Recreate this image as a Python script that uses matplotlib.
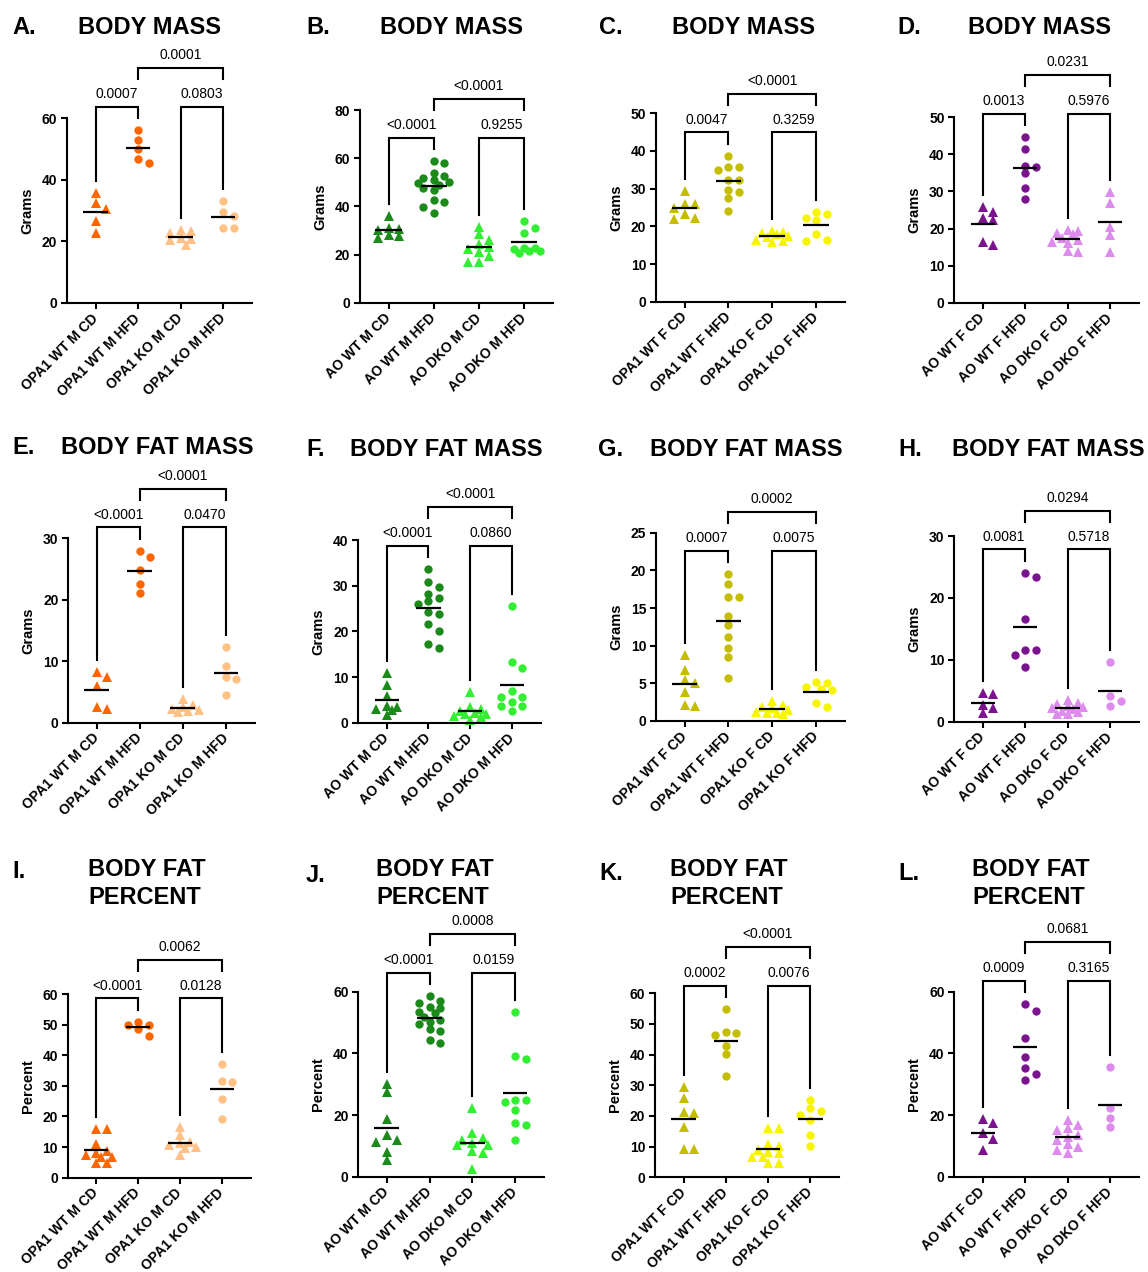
import numpy as np
import matplotlib
matplotlib.use('Agg')
import matplotlib.pyplot as plt

plt.rcParams['font.family'] = ['Liberation Sans', 'DejaVu Sans']

W, H, DPI = 1148, 1272, 100

# ---------------- data ----------------
opa1_m_labels = ['OPA1 WT M CD', 'OPA1 WT M HFD', 'OPA1 KO M CD', 'OPA1 KO M HFD']
ao_m_labels = ['AO WT M CD', 'AO WT M HFD', 'AO DKO M CD', 'AO DKO M HFD']
opa1_f_labels = ['OPA1 WT F CD', 'OPA1 WT F HFD', 'OPA1 KO F CD', 'OPA1 KO F HFD']
ao_f_labels = ['AO WT F CD', 'AO WT F HFD', 'AO DKO F CD', 'AO DKO F HFD']

A_vals = [[35.6, 32.5, 30.4, 26.6, 22.6],
          [56.1, 52.9, 50.0, 46.6, 45.5],
          [23.8, 23.5, 22.6, 21.0, 20.6, 20.3, 18.9],
          [33.2, 29.5, 28.2, 24.3, 24.3]]
A_p = ['0.0007', '0.0803', '0.0001']

B_vals = [[36.0, 31.0, 30.5, 30.0, 28.0, 27.5, 27.0],
          [58.8, 57.8, 53.7, 52.6, 51.6, 50.9, 50.2, 49.5, 48.8, 47.5, 46.8, 42.6, 41.9, 39.8, 37.1],
          [31.5, 28.5, 26.0, 24.5, 23.0, 22.5, 21.0, 19.5, 17.0, 17.0],
          [33.9, 31.1, 28.8, 22.6, 22.6, 22.1, 21.6, 21.6, 20.7]]
B_p = ['<0.0001', '0.9255', '<0.0001']

C_vals = [[29.4, 25.9, 25.9, 24.8, 23.4, 21.9, 22.1],
          [38.7, 35.8, 35.8, 34.9, 32.3, 32.3, 29.6, 29.0, 27.6, 24.1],
          [18.8, 18.5, 18.2, 18.0, 17.5, 17.2, 16.5, 16.0, 15.8],
          [23.7, 23.4, 22.1, 21.7, 18.0, 16.2, 16.5]]
C_p = ['0.0047', '0.3259', '<0.0001']

D_vals = [[24.5, 25.7, 22.3, 22.8, 15.6, 16.5],
          [44.6, 41.4, 37.0, 36.7, 34.9, 31.0, 27.9],
          [19.5, 19.3, 18.8, 18.5, 17.5, 17.0, 16.5, 16.0, 14.0, 13.8],
          [29.8, 27.0, 20.5, 18.3, 13.6]]
D_p = ['0.0013', '0.5976', '0.0231']

E_vals = [[8.3, 7.5, 6.0, 2.2, 2.6],
          [28.0, 26.9, 24.9, 22.6, 21.1],
          [3.8, 2.8, 2.5, 2.2, 2.0, 1.8, 1.9],
          [12.3, 9.2, 7.5, 7.1, 4.5]]
E_p = ['<0.0001', '0.0470', '<0.0001']

F_vals = [[10.8, 8.3, 5.9, 3.7, 3.5, 3.0, 2.7, 1.6],
          [33.6, 30.9, 29.8, 28.2, 27.2, 26.6, 25.9, 24.3, 23.9, 21.6, 20.1, 17.2, 16.3],
          [6.8, 3.5, 3.0, 2.5, 2.2, 2.0, 1.8, 1.5, 1.2, 0.5],
          [25.5, 13.2, 11.9, 7.0, 5.7, 5.7, 4.6, 3.7, 3.7, 2.6]]
F_p = ['<0.0001', '0.0860', '<0.0001']

G_vals = [[8.8, 6.8, 5.4, 5.1, 3.9, 2.0, 2.1],
          [19.5, 18.2, 16.4, 16.5, 13.9, 12.7, 11.2, 9.7, 8.5, 5.7],
          [2.7, 2.1, 1.9, 1.7, 1.4, 1.2, 1.1, 1.0, 0.9],
          [5.2, 5.1, 4.5, 4.3, 4.1, 2.4, 1.8]]
G_p = ['0.0007', '0.0075', '0.0002']

H_vals = [[4.4, 4.6, 2.7, 2.2, 1.4],
          [23.3, 24.1, 16.6, 11.6, 11.6, 10.8, 8.8],
          [3.5, 3.0, 2.8, 2.5, 2.3, 2.2, 2.0, 1.8, 1.6, 1.3, 1.2],
          [9.7, 4.2, 2.6, 3.4]]
H_p = ['0.0081', '0.5718', '0.0294']

I_vals = [[15.8, 15.8, 10.9, 8.8, 8.2, 7.4, 6.9, 6.7, 4.9, 4.7],
          [51.0, 49.9, 49.9, 48.5, 46.3],
          [16.7, 14.0, 11.8, 11.4, 10.7, 9.9, 9.6, 7.4],
          [37.2, 31.4, 31.6, 25.7, 19.2]]
I_p = ['<0.0001', '0.0128', '0.0062']

J_vals = [[30.1, 27.4, 18.6, 13.5, 11.9, 11.4, 8.1, 5.4],
          [58.6, 57.1, 56.4, 55.1, 54.6, 53.5, 53.2, 51.9, 50.8, 50.3, 49.5, 47.8, 47.4, 44.3, 43.3],
          [22.4, 14.1, 12.5, 11.9, 10.8, 10.3, 10.3, 8.4, 7.6, 2.4],
          [53.5, 38.2, 39.3, 24.9, 24.9, 24.3, 21.6, 16.8, 17.5, 11.9]]
J_p = ['<0.0001', '0.0159', '0.0008']

K_vals = [[29.5, 25.8, 21.4, 20.9, 16.5, 9.1, 9.2],
          [54.8, 47.3, 46.4, 46.9, 42.8, 40.1, 33.1],
          [16.0, 16.0, 10.9, 10.2, 8.9, 8.2, 7.8, 6.7, 6.7, 4.8, 4.6],
          [25.2, 22.5, 21.7, 20.3, 18.7, 13.8, 10.2]]
K_p = ['0.0002', '0.0076', '<0.0001']

L_vals = [[18.6, 17.3, 14.1, 12.1, 8.7],
          [56.0, 53.8, 45.1, 38.7, 35.2, 33.3, 31.4],
          [18.4, 16.8, 15.7, 15.1, 13.5, 13.0, 11.9, 10.6, 9.7, 8.7, 7.6],
          [35.7, 22.4, 19.1, 16.2]]
L_p = ['0.0009', '0.3165', '0.0681']

# ---------------- styles ----------------
OR_D, OR_L = '#FF6600', '#FFC185'
GR_D, GR_L = '#1B8A1B', '#33EE33'
YE_D, YE_L = '#C4BD00', '#F8F500'
PU_D, PU_L = '#7B138F', '#DD8CEE'

panels = [
    ('A.', ['BODY MASS'], opa1_m_labels, A_vals, A_p, 'Grams', 60, 20, (OR_D, OR_L), '^o^o', (67, 252, 118, 303), (12, 27), 150, 27, 'center'),
    ('B.', ['BODY MASS'], ao_m_labels, B_vals, B_p, 'Grams', 80, 20, (GR_D, GR_L), '^o^o', (360, 553, 110, 302.7), (306, 28), 452, 28, 'center'),
    ('C.', ['BODY MASS'], opa1_f_labels, C_vals, C_p, 'Grams', 50, 10, (YE_D, YE_L), '^o^o', (656, 845, 113.3, 301.7), (599, 28), 744, 28, 'center'),
    ('D.', ['BODY MASS'], ao_f_labels, D_vals, D_p, 'Grams', 50, 10, (PU_D, PU_L), '^o^^', (954.3, 1139, 117.3, 302.7), (897, 28), 1039.5, 28, 'center'),
    ('E.', ['BODY FAT MASS'], opa1_m_labels, E_vals, E_p, 'Grams', 30, 10, (OR_D, OR_L), '^o^o', (68.3, 255, 538.3, 722.7), (12, 448), 157, 448, 'center'),
    ('F.', ['BODY FAT MASS'], ao_m_labels, F_vals, F_p, 'Grams', 40, 10, (GR_D, GR_L), '^o^o', (358.3, 540.7, 540, 722.7), (306, 449), 446, 449, 'center'),
    ('G.', ['BODY FAT MASS'], opa1_f_labels, G_vals, G_p, 'Grams', 25, 5, (YE_D, YE_L), '^o^o', (656, 845, 532.7, 721), (598, 449), 746, 449, 'center'),
    ('H.', ['BODY FAT MASS'], ao_f_labels, H_vals, H_p, 'Grams', 30, 10, (PU_D, PU_L), '^o^o', (954.3, 1139, 536, 721.7), (898, 449), 1048, 449, 'center'),
    ('I.', ['BODY FAT', 'PERCENT'], opa1_m_labels, I_vals, I_p, 'Percent', 60, 10, (OR_D, OR_L), '^o^o', (67.7, 250.7, 994, 1177.7), (12, 872), 88, 870, 'left'),
    ('J.', ['BODY FAT', 'PERCENT'], ao_m_labels, J_vals, J_p, 'Percent', 60, 20, (GR_D, GR_L), '^o^o', (358.3, 544, 991.7, 1176.7), (306, 875), 376, 870, 'left'),
    ('K.', ['BODY FAT', 'PERCENT'], opa1_f_labels, K_vals, K_p, 'Percent', 60, 10, (YE_D, YE_L), '^o^o', (655, 839.3, 993.3, 1177.3), (599, 873), 670, 870, 'left'),
    ('L.', ['BODY FAT', 'PERCENT'], ao_f_labels, L_vals, L_p, 'Percent', 60, 20, (PU_D, PU_L), '^o^o', (954.3, 1139, 991.7, 1176.7), (898, 873), 972, 870, 'left'),
]

fig = plt.figure(figsize=(W / DPI, H / DPI), dpi=DPI)


def swarm(vals, ppu_y, ppu_x, step=10.5, thr=7.0):
    """Compact swarm: columns at 0, +-1, +-0.5, +-1.5 steps; overlap when dense."""
    vals = np.asarray(vals, float)
    order = np.argsort(-vals, kind='stable')
    placed = []
    offs = np.zeros(len(vals))
    cands = [0.0, step, -step, 0.5 * step, -0.5 * step, 1.5 * step, -1.5 * step]
    for i in order:
        y = vals[i] * ppu_y
        best, bestd = None, -1.0
        for c in cands:
            d = min([np.hypot(c - px, y - py) for px, py in placed] or [1e9])
            if d >= thr:
                best = c
                break
            if d > bestd:
                best, bestd = c, d
        placed.append((best, y))
        offs[i] = best / ppu_x
    return offs


LW = 1.5
for (letter, tlines, labels, vals, pv, ylabel, ymax, ystep, cols, marks,
     rect, lxy, tx, ty, tha) in panels:
    x0, x1, yt, yb = rect
    w, h = x1 - x0, yb - yt
    ax = fig.add_axes([x0 / W, 1 - yb / H, w / W, h / H])
    s = (w - 57.5) / 3.0
    ax.set_xlim(-28.5 / s, 3 + 29.0 / s)
    ax.set_ylim(0, ymax)
    ppu = h / ymax
    colors = [cols[0], cols[0], cols[1], cols[1]]
    for g in range(4):
        v = np.asarray(vals[g], float)
        offs = swarm(v, ppu, s)
        mk = marks[g]
        ms = 6.6 if mk == '^' else 6.0
        ax.plot(g + offs, v, ls='none', marker=mk, ms=ms, color=colors[g],
                mew=0, zorder=2, clip_on=False)
        ax.plot([g - 0.29, g + 0.29], [v.mean()] * 2, color='black', lw=1.6,
                zorder=3, solid_capstyle='butt')

    ax.spines[['top', 'right']].set_visible(False)
    for sp in ('left', 'bottom'):
        ax.spines[sp].set_linewidth(LW)
    ax.set_yticks(np.arange(0, ymax + 0.1, ystep))
    ax.set_xticks(range(4))
    ax.set_xticklabels(labels, rotation=45, ha='right', va='center',
                       rotation_mode='anchor', fontweight='bold', fontsize=10)
    ax.tick_params(axis='both', width=LW, length=4.5, labelsize=10)
    ax.tick_params(axis='y', pad=2.5)
    ax.tick_params(axis='x', pad=5)
    for t in ax.get_yticklabels():
        t.set_fontweight('bold')
    ax.set_ylabel(ylabel, fontsize=10.5, fontweight='bold')
    ax.yaxis.set_label_coords(-40.0 / w, 0.5)
    ax.yaxis.label.set_va('center')

    # significance brackets (pixel offsets from data maxima)
    trans = ax.get_xaxis_transform()

    def fr(p):
        return (yb - p) / h

    legs = [yb - max(vals[g]) * ppu - 12 for g in range(4)]
    lvl1 = min(legs) - 11.5
    top = lvl1 - 38.5
    for a, b in ((0, 1), (2, 3)):
        ax.plot([a, a, b, b], [fr(legs[a]), fr(lvl1), fr(lvl1), fr(legs[b])],
                transform=trans, color='black', lw=LW, clip_on=False,
                solid_joinstyle='miter')
    ax.plot([1, 1, 3, 3], [fr(top + 11), fr(top), fr(top), fr(top + 11)],
            transform=trans, color='black', lw=LW, clip_on=False,
            solid_joinstyle='miter')
    ax.text(0.5, fr(lvl1 - 12.5), pv[0], transform=trans, ha='center',
            va='center', fontsize=10)
    ax.text(2.5, fr(lvl1 - 12.5), pv[1], transform=trans, ha='center',
            va='center', fontsize=10)
    ax.text(2.0, fr(top - 13), pv[2], transform=trans, ha='center',
            va='center', fontsize=10)

    # panel letter and title
    fig.text(lxy[0] / W, 1 - lxy[1] / H, letter, fontsize=17,
             fontweight='bold', ha='left', va='center')
    for k, line in enumerate(tlines):
        fig.text(tx / W, 1 - (ty + 27 * k) / H, line, fontsize=17,
                 fontweight='bold', ha=tha, va='center')

fig.savefig('out.png', dpi=DPI)
